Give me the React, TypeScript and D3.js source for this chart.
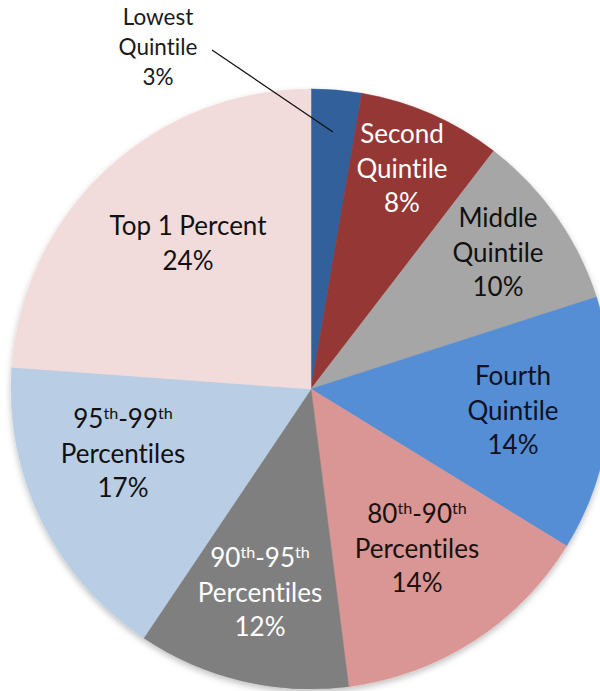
import React from 'react';
import * as d3 from 'd3';

// ---- data ----
const categories = [
  'Lowest Quintile',
  'Second Quintile',
  'Middle Quintile',
  'Fourth Quintile',
  '80th-90th Percentiles',
  '90th-95th Percentiles',
  '95th-99th Percentiles',
  'Top 1 Percent',
];
const shares = [2.7, 7.7, 9.6, 13.7, 14.2, 11.4, 16.7, 23.8];
const percentLabels = ['3%', '8%', '10%', '14%', '14%', '12%', '17%', '24%'];

// ---- styles / layout ----
const colors = ['#30609a', '#953735', '#a6a6a6', '#558ed5', '#d99694', '#7f7f7f', '#b9cde5', '#f2dcdb'];
const textColors = ['#1a1a1a', '#ffffff', '#111111', '#111122', '#1a1111', '#ffffff', '#111111', '#111111'];

type Seg = { t: string; sup?: boolean };
const labelLines: Seg[][][] = [
  [[{ t: 'Lowest' }], [{ t: 'Quintile' }]],
  [[{ t: 'Second' }], [{ t: 'Quintile' }]],
  [[{ t: 'Middle' }], [{ t: 'Quintile' }]],
  [[{ t: 'Fourth' }], [{ t: 'Quintile' }]],
  [[{ t: '80' }, { t: 'th', sup: true }, { t: '-90' }, { t: 'th', sup: true }], [{ t: 'Percentiles' }]],
  [[{ t: '90' }, { t: 'th', sup: true }, { t: '-95' }, { t: 'th', sup: true }], [{ t: 'Percentiles' }]],
  [[{ t: '95' }, { t: 'th', sup: true }, { t: '-99' }, { t: 'th', sup: true }], [{ t: 'Percentiles' }]],
  [[{ t: 'Top 1 Percent' }]],
];
// label anchor: center x, first baseline y
const labelAnchors: [number, number][] = [
  [158, 25],
  [402, 143],
  [498, 227],
  [513, 385],
  [417, 523],
  [260, 567],
  [123, 428],
  [188, 235],
];

const W = 600;
const H = 691;
const CX = 311;
const CY = 389;
const R = 300;
const FONT = 'Lato, "Open Sans", sans-serif';

export default function App() {
  const pie = d3.pie<number>().sort(null).value((d) => d);
  const arcs = pie(shares);
  const arcGen = d3.arc<d3.PieArcDatum<number>>().innerRadius(0).outerRadius(R);

  // leader line for the smallest slice
  const a0 = arcs[0];
  const midA = (a0.startAngle + a0.endAngle) / 2;
  const leaderEnd: [number, number] = [CX + Math.sin(midA) * R * 0.86, CY - Math.cos(midA) * R * 0.86];

  return (
    <div style={{ position: 'fixed', left: 0, top: 0, width: W, height: H, background: '#fff' }}>
      <svg
        width={W}
        height={H}
        viewBox={`0 0 ${W} ${H}`}
        style={{ display: 'block', fontVariantLigatures: 'none', fontFeatureSettings: '"liga" 0, "clig" 0' }}
      >
        <defs>
          <filter id="shadow" x="-10%" y="-10%" width="120%" height="120%">
            <feDropShadow dx="0" dy="3" stdDeviation="3" floodColor="#000" floodOpacity="0.25" />
          </filter>
        </defs>
        <g transform={`translate(${CX},${CY})`} filter="url(#shadow)">
          {arcs.map((a, i) => (
            <path key={categories[i]} d={arcGen(a) || ''} fill={colors[i]} stroke={colors[i]} strokeWidth={0.5} />
          ))}
        </g>
        <line x1={212} y1={50} x2={leaderEnd[0]} y2={leaderEnd[1]} stroke="#111" strokeWidth={1.3} />
        {categories.map((c, i) => {
          const [x, y] = labelAnchors[i];
          const small = i === 0;
          const fs = small ? 22.5 : 26;
          const lh = small ? 30 : 34.5;
          const lines = labelLines[i];
          return (
            <text key={c} x={x} y={y} textAnchor="middle" fontFamily={FONT} fontSize={fs} fill={textColors[i]}>
              {lines.map((ln, li) => (
                <tspan key={li} x={x} y={y + li * lh}>
                  {ln.map((s, si) =>
                    s.sup ? (
                      <tspan key={si} fontSize={fs * 0.62} dy={-fs * 0.33}>
                        {s.t}
                      </tspan>
                    ) : (
                      <tspan key={si} dy={si > 0 && ln[si - 1].sup ? fs * 0.33 : 0}>
                        {s.t}
                      </tspan>
                    )
                  )}
                </tspan>
              ))}
              <tspan x={x} y={y + lines.length * lh}>
                {percentLabels[i]}
              </tspan>
            </text>
          );
        })}
      </svg>
    </div>
  );
}
